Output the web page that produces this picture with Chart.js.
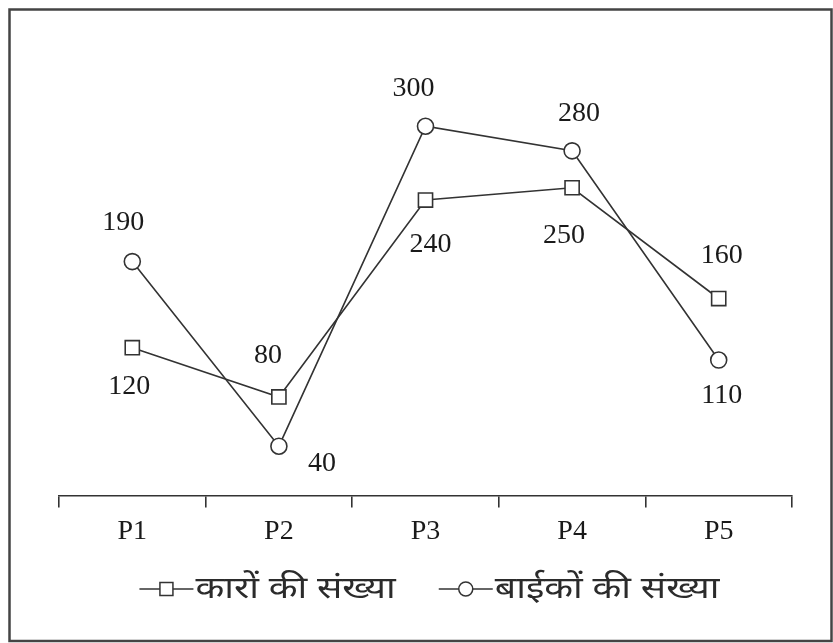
<!DOCTYPE html>
<html>
<head>
<meta charset="utf-8">
<script src="https://cdn.jsdelivr.net/npm/chart.js@4.4.1/dist/chart.umd.min.js"></script>
<style>
  body { margin: 0; background: #fff; }
  canvas { display: block; }
</style>
</head>
<body>
<canvas id="chart" width="833" height="643"></canvas>
<script>
// data
const periods = ['P1', 'P2', 'P3', 'P4', 'P5']
const cars = [120, 80, 240, 250, 160]
const bikes = [190, 40, 300, 280, 110]
const seriesNames = ['कारों की संख्या', 'बाईकों की संख्या']

// where each value label sits relative to its point: [dx, dy]
const carLabelPos = [[-3, 39], [-11, -41], [5, 45], [-8, 48], [3, -43]]
const bikeLabelPos = [[-9, -39], [43, 17], [-12, -38], [7, -37], [3, 36]]

const lineColor = '#333'
const textColor = '#1a1a1a'
const serif = "'Liberation Serif', 'Times New Roman', serif"

const frame = {
    id: 'frame',
    beforeDraw(chart) {
        var g = chart.ctx
        g.save()
        g.fillStyle = '#fff'
        g.fillRect(0, 0, chart.width, chart.height)
        g.strokeStyle = '#444'
        g.lineWidth = 2.5
        g.strokeRect(9.5, 9.5, 822, 631.5)
        g.restore()
    }
}

const valueLabels = {
    id: 'valueLabels',
    afterDatasetsDraw(chart) {
        var g = chart.ctx
        g.save()
        g.font = '28px ' + serif
        g.fillStyle = textColor
        g.textAlign = 'center'
        g.textBaseline = 'middle'
        chart.data.datasets.forEach((ds, i) => {
            var pos = i == 0 ? carLabelPos : bikeLabelPos
            chart.getDatasetMeta(i).data.forEach((pt, j) => {
                g.fillText(ds.data[j], pt.x + pos[j][0], pt.y + pos[j][1])
            })
        })
        g.restore()
    }
}

// legend drawn by hand: line + marker + a slightly wide Devanagari label
const bottomLegend = {
    id: 'bottomLegend',
    afterDraw(chart) {
        var g = chart.ctx
        var stretch = 1.25
        var symW = 54
        var gap = 43
        var y = 589
        g.save()
        g.font = "30px 'Noto Sans', sans-serif"
        var items = chart.data.datasets.map(ds => ({
            ds: ds,
            w: g.measureText(ds.label).width * stretch
        }))
        var total = items.reduce((s, it) => s + symW + 2 + it.w, 0) + gap * (items.length - 1)
        var x = (chart.chartArea.left + chart.chartArea.right) / 2 - total / 2 + 4
        items.forEach(it => {
            g.strokeStyle = lineColor
            g.lineWidth = 1.5
            g.beginPath()
            g.moveTo(x, y)
            g.lineTo(x + symW, y)
            g.stroke()
            g.fillStyle = '#fff'
            g.beginPath()
            var cx = x + symW / 2
            if (it.ds.pointStyle == 'rect') {
                g.rect(cx - 6.5, y - 6.5, 13, 13)
            } else {
                g.arc(cx, y, 7, 0, Math.PI * 2)
            }
            g.fill()
            g.stroke()
            g.save()
            g.translate(x + symW + 2, y)
            g.scale(stretch, 1)
            g.fillStyle = '#2b2b2b'
            g.textAlign = 'left'
            g.textBaseline = 'middle'
            g.fillText(it.ds.label, 0, 0)
            g.restore()
            x += symW + 2 + it.w + gap
        })
        g.restore()
    }
}

new Chart(document.getElementById('chart'), {
    type: 'line',
    data: {
        labels: periods,
        datasets: [{
            label: seriesNames[0],
            data: cars,
            borderColor: lineColor,
            borderWidth: 1.6,
            pointStyle: 'rect',
            pointRadius: 10,
            pointBackgroundColor: '#fff',
            pointBorderColor: lineColor,
            pointBorderWidth: 1.6,
            tension: 0
        }, {
            label: seriesNames[1],
            data: bikes,
            borderColor: lineColor,
            borderWidth: 1.6,
            pointStyle: 'circle',
            pointRadius: 8,
            pointBackgroundColor: '#fff',
            pointBorderColor: lineColor,
            pointBorderWidth: 1.6,
            tension: 0
        }]
    },
    options: {
        responsive: false,
        animation: false,
        layout: {
            padding: { left: 59, right: 41, top: 77, bottom: 88 }
        },
        scales: {
            y: {
                display: false,
                min: 0,
                max: 340
            },
            x: {
                offset: true,
                grid: {
                    offset: true,
                    drawOnChartArea: false,
                    tickLength: 12,
                    color: lineColor,
                    lineWidth: 1.6
                },
                border: { color: lineColor, width: 1.6 },
                ticks: {
                    color: textColor,
                    font: { family: serif, size: 28 },
                    padding: 7
                }
            }
        },
        plugins: {
            tooltip: { enabled: false },
            legend: { display: false }
        }
    },
    plugins: [frame, valueLabels, bottomLegend]
})
</script>
</body>
</html>
